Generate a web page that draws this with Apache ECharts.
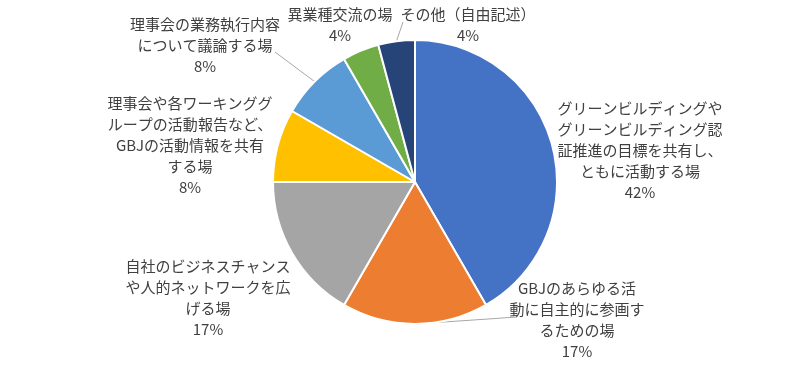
<!DOCTYPE html>
<html><head><meta charset="utf-8">
<script src="https://cdn.jsdelivr.net/npm/echarts@6/dist/echarts.min.js"></script>
<style>html,body{margin:0;padding:0;background:#fff}#c{width:800px;height:366px}</style>
</head><body><div id="c"></div>
<script>
const categories = [
  'グリーンビルディングや\nグリーンビルディング認\n証推進の目標を共有し、\nともに活動する場',
  'GBJのあらゆる活\n動に自主的に参画す\nるための場',
  '自社のビジネスチャンス\nや人的ネットワークを広\nげる場',
  '理事会や各ワーキンググ\nループの活動報告など、\nGBJの活動情報を共有\nする場',
  '理事会の業務執行内容\nについて議論する場',
  '異業種交流の場',
  'その他（自由記述）'
];
const values = [10, 4, 4, 2, 2, 1, 1];
const colors = ['#4472C4', '#ED7D31', '#A5A5A5', '#FFC000', '#5B9BD5', '#70AD47', '#264478'];

// layout constants
const CX = 415, CY = 182, R = 142;
const labelPos = [[640,150],[577,320],[208,298],[190,145],[205,45],[340,25],[468,25]];
const lineEnd = [null, [517,317], null, null, [275,52], null, [403,22]];

const total = values.reduce((a, b) => a + b, 0);
const midAngle = i => {
  let before = 0;
  for (let k = 0; k < i; k++) before += values[k];
  return (before + values[i] / 2) / total * 2 * Math.PI;
};

const chart = echarts.init(document.getElementById('c'));
chart.setOption({
  animation: false,
  series: [{
    type: 'pie',
    center: [CX, CY],
    radius: R,
    startAngle: 90,
    clockwise: true,
    percentPrecision: 0,
    itemStyle: { borderColor: '#fff', borderWidth: 2 },
    data: categories.map((n, i) => ({
      name: n, value: values[i],
      itemStyle: { color: colors[i] },
      labelLine: { show: !!lineEnd[i], lineStyle: { color: '#A6A6A6', width: 1 } }
    })),
    label: {
      show: true,
      formatter: '{b}\n{d}%',
      fontFamily: '"Noto Sans CJK JP", sans-serif',
      fontSize: 15,
      lineHeight: 21,
      color: '#404040',
      align: 'center'
    },
    labelLine: { length: 10, length2: 10, smooth: false },
    labelLayout: p => {
      const i = p.dataIndex;
      const o = {
        x: labelPos[i][0],
        y: labelPos[i][1],
        align: 'center',
        verticalAlign: 'middle'
      };
      if (lineEnd[i]) {
        const a = midAngle(i);
        const sx = CX + R * Math.sin(a), sy = CY - R * Math.cos(a);
        o.labelLinePoints = [[sx, sy], [sx, sy], lineEnd[i]];
      }
      return o;
    }
  }]
});
</script></body></html>
